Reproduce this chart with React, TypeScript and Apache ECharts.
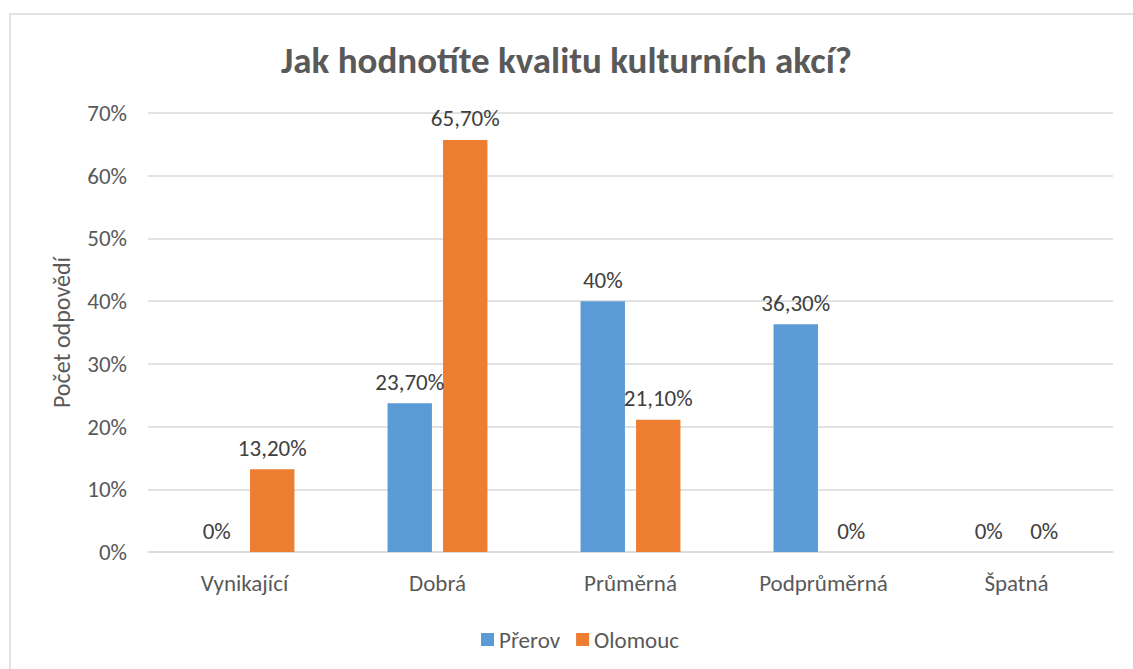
import React, { useEffect, useRef } from "react";
import * as echarts from "echarts";

const categories = ["Vynikající", "Dobrá", "Průměrná", "Podprůměrná", "Špatná"];
const prerov = [0, 23.7, 40, 36.3, 0];
const olomouc = [13.2, 65.7, 21.1, 0, 0];
const seriesNames = ["Přerov", "Olomouc"];
const titleText = "Jak hodnotíte kvalitu kulturních akcí?";
const yAxisName = "Počet odpovědí";

const FONT = "Carlito, Calibri, Lato, 'Open Sans', sans-serif";
const FS = 23;

const fmt = (v: number) =>
  Number.isInteger(v) ? `${v}%` : `${v.toFixed(2).replace(".", ",")}%`;

export default function App() {
  const ref = useRef<HTMLDivElement>(null);
  useEffect(() => {
    if (!ref.current) return;
    const chart = echarts.init(ref.current, null, { renderer: "svg" });
    const label = {
      show: true,
      position: "top",
      distance: 10,
      fontFamily: FONT,
      fontSize: FS,
      color: "#404040",
      formatter: (p: any) => fmt(p.value),
    };
    chart.setOption({
      animation: false,
      backgroundColor: "#ffffff",
      textStyle: { fontFamily: FONT },
      graphic: [
        {
          type: "rect",
          shape: { x: 10, y: 14, width: 1300, height: 800 },
          style: { fill: "none", stroke: "#d9d9d9", lineWidth: 1.5 },
          silent: true,
        },
      ],
      title: {
        text: titleText,
        left: "center",
        top: 37,
        textStyle: { fontFamily: FONT, fontSize: 37, fontWeight: "bold", color: "#595959" },
      },
      legend: {
        data: seriesNames,
        top: 623,
        left: 476,
        itemWidth: 13,
        itemHeight: 13,
        itemGap: 16,
        icon: "rect",
        textStyle: { fontFamily: FONT, fontSize: FS, color: "#595959" },
      },
      grid: { left: 148, right: 20, top: 113, bottom: 117, containLabel: false },
      xAxis: {
        type: "category",
        data: categories,
        axisLine: { lineStyle: { color: "#d9d9d9", width: 1.5 } },
        axisTick: { show: false },
        axisLabel: { fontFamily: FONT, fontSize: FS, color: "#595959", margin: 19 },
      },
      yAxis: {
        type: "value",
        min: 0,
        max: 70,
        interval: 10,
        name: yAxisName,
        nameLocation: "middle",
        nameGap: 75,
        nameRotate: 90,
        nameTextStyle: { fontFamily: FONT, fontSize: 24, color: "#595959" },
        axisLine: { show: false },
        axisTick: { show: false },
        splitLine: { lineStyle: { color: "#d9d9d9", width: 1.5 } },
        axisLabel: {
          fontFamily: FONT,
          fontSize: FS,
          color: "#595959",
          margin: 21,
          formatter: (v: number) => `${v}%`,
        },
      },
      series: [
        {
          name: seriesNames[0],
          type: "bar",
          data: prerov,
          barWidth: "23%",
          barGap: "25%",
          itemStyle: { color: "#5B9BD5" },
          label,
        },
        {
          name: seriesNames[1],
          type: "bar",
          data: olomouc,
          barWidth: "23%",
          barGap: "25%",
          itemStyle: { color: "#ED7D31" },
          label,
        },
      ],
    });
    return () => chart.dispose();
  }, []);
  return (
    <div
      ref={ref}
      style={{ position: "fixed", left: 0, top: 0, width: 1133, height: 669 }}
    />
  );
}
